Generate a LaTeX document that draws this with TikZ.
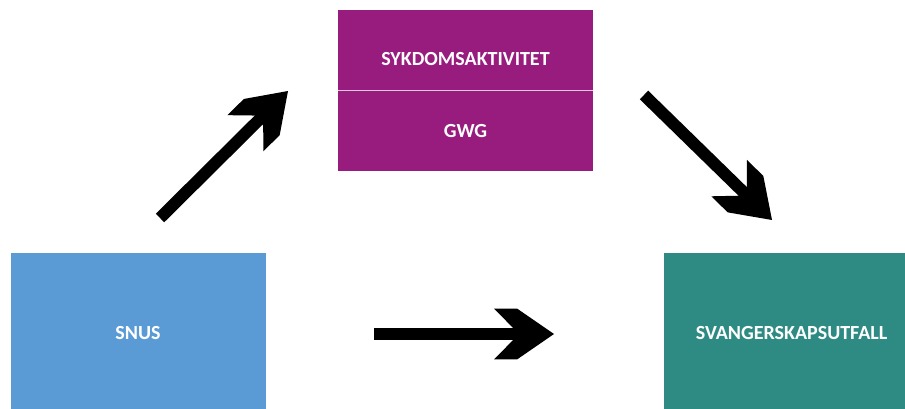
\documentclass[tikz,border=0pt]{standalone}
\usepackage{fontspec}
\setmainfont{Carlito}
\usetikzlibrary{arrows.meta,positioning}
\definecolor{sykpurple}{HTML}{981C7E}
\definecolor{snusblue}{HTML}{5B9BD5}
\definecolor{utfteal}{HTML}{2E8B83}
% notched block arrow head
\pgfdeclarearrow{
  name = Chevron,
  setup code = {
    \pgfarrowssettipend{0pt}
    \pgfarrowssetlineend{-18pt}
    \pgfarrowssetbackend{-45pt}
    \pgfarrowshullpoint{0pt}{0pt}
    \pgfarrowshullpoint{-45pt}{19.1pt}
    \pgfarrowshullpoint{-45pt}{-19.1pt}
  },
  drawing code = {
    \pgfpathmoveto{\pgfpointorigin}
    \pgfpathlineto{\pgfpoint{-27.75pt}{19.1pt}}
    \pgfpathlineto{\pgfpoint{-45pt}{19.1pt}}
    \pgfpathlineto{\pgfpoint{-26.25pt}{0pt}}
    \pgfpathlineto{\pgfpoint{-45pt}{-19.1pt}}
    \pgfpathlineto{\pgfpoint{-27.75pt}{-19.1pt}}
    \pgfpathclose
    \pgfusepathqfill
  }
}
\tikzset{
  box/.style={rectangle, inner sep=0pt, minimum width=191.25pt, text=white,
    font=\fontsize{15}{18}\selectfont\bfseries},
  halfbox/.style={box, fill=sykpurple, minimum height=60pt},
  bigbox/.style={box, minimum height=120pt},
  fatarrow/.style={line width=9pt, -Chevron}
}

\begin{document}
\begin{tikzpicture}[x=0.75pt, y=-0.75pt]
      \useasboundingbox (0,0) rectangle (905,409);
      % the middle boxes
      \node[halfbox, text height=23pt, text depth=0pt] (syk) at (465.5,50) {SYKDOMSAKTIVITET};
      \node[halfbox, below=0pt of syk] (gwg) {GWG};
      \draw[white!75!sykpurple, line width=0.9pt] (syk.south west) -- (syk.south east);
      % bottom boxes, they run off the page
      \node[bigbox, fill=snusblue] (snus) at (138,333) {SNUS};
      \node[bigbox, fill=utfteal] (utfall) at (791.5,333) {SVANGERSKAPSUTFALL};
      % loose arrows
      \coordinate (up tail) at (160,218);
      \coordinate (up tip) at (288,91);
      \coordinate (down tail) at (644,95);
      \coordinate (down tip) at (772,220);
      \coordinate (mid tail) at (374,334);
      \coordinate (mid tip) at (554,334);
      \draw[fatarrow] (up tail) -- (up tip);
      \draw[fatarrow] (down tail) -- (down tip);
      \draw[fatarrow] (mid tail) -- (mid tip);
\end{tikzpicture}
\end{document}
